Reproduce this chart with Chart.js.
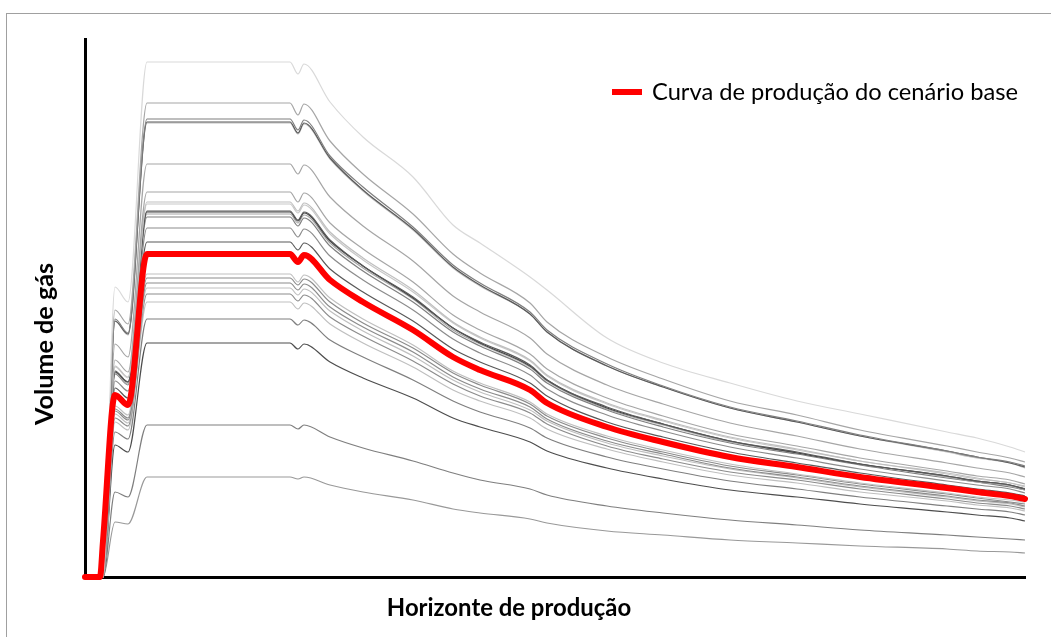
<!DOCTYPE html>
<html>
<head>
<meta charset="utf-8">
<script src="https://cdn.jsdelivr.net/npm/chart.js@4/dist/chart.umd.min.js"></script>
<style>
  html, body { margin: 0; padding: 0; background: #ffffff; }
  canvas { display: block; }
</style>
</head>
<body>
<canvas id="grafico" width="1051" height="637"></canvas>
<script>
// Horizonte de produção (passos de tempo)
const horizonte = [0, 15, 18, 30, 43, 62, 205, 213, 219, 245, 278, 328, 368, 395, 445, 462, 522, 578, 645, 712, 775, 862, 892, 925, 940];

// Curva de produção do cenário base
const cenarioBase = [0, 0, 36, 182, 172, 323, 323, 315, 322, 297, 275, 247, 220, 207, 187, 174, 150, 135, 120, 110, 100, 89, 85, 81, 78];

// Curvas de produção dos demais cenários
const cenario01 = [0, 0, 0, 290, 275, 515, 515, 503, 513, 475, 440, 400, 352, 334, 300, 287, 239, 214, 194, 176, 163, 145, 139, 130, 125];
const cenario02 = [0, 0, 0, 267, 253, 474, 474, 462, 473, 436, 403, 363, 323, 304, 274, 255, 220, 198, 176, 162, 147, 131, 125, 119, 115];
const cenario03 = [0, 0, 0, 258, 244, 458, 458, 447, 457, 421, 390, 350, 312, 294, 265, 247, 213, 191, 170, 156, 142, 126, 120, 115, 111];
const cenario04 = [0, 0, 0, 256, 243, 455, 455, 444, 454, 419, 387, 348, 310, 292, 263, 245, 211, 190, 169, 155, 141, 126, 120, 114, 110];
const cenario05 = [0, 0, 0, 256, 242, 454, 454, 443, 453, 418, 386, 347, 309, 291, 263, 245, 211, 190, 169, 155, 141, 125, 119, 114, 109];
const cenario06 = [0, 0, 0, 233, 220, 413, 413, 403, 412, 380, 351, 316, 281, 265, 239, 223, 192, 173, 154, 141, 128, 114, 109, 104, 100];
const cenario07 = [0, 0, 0, 217, 205, 385, 385, 375, 384, 354, 328, 295, 262, 247, 223, 208, 179, 161, 143, 131, 119, 106, 101, 97, 93];
const cenario08 = [0, 0, 0, 211, 200, 375, 375, 366, 374, 345, 319, 287, 255, 240, 217, 202, 174, 157, 140, 128, 116, 104, 99, 94, 91];
const cenario09 = [0, 0, 0, 210, 199, 373, 373, 364, 372, 343, 317, 285, 254, 239, 216, 201, 173, 156, 139, 127, 116, 103, 98, 94, 90];
const cenario10 = [0, 0, 0, 206, 195, 366, 366, 357, 365, 337, 311, 280, 249, 235, 212, 197, 170, 153, 136, 125, 113, 101, 96, 92, 88];
const cenario11 = [0, 0, 0, 205, 195, 365, 365, 356, 364, 336, 311, 279, 249, 234, 211, 197, 169, 153, 136, 124, 113, 101, 96, 92, 88];
const cenario12 = [0, 0, 0, 204, 193, 363, 363, 354, 362, 334, 309, 278, 247, 233, 210, 196, 168, 152, 135, 124, 113, 100, 95, 91, 87];
const cenario13 = [0, 0, 0, 203, 192, 360, 360, 351, 359, 331, 306, 275, 245, 231, 208, 194, 167, 150, 134, 123, 112, 99, 95, 90, 87];
const cenario14 = [0, 0, 0, 196, 186, 349, 349, 340, 348, 321, 297, 267, 238, 224, 202, 188, 162, 146, 130, 119, 108, 96, 92, 88, 84];
const cenario15 = [0, 0, 0, 189, 179, 335, 335, 327, 334, 308, 285, 256, 228, 215, 194, 181, 155, 140, 125, 114, 104, 92, 88, 84, 81];
const cenario16 = [0, 0, 0, 171, 162, 303, 303, 295, 302, 279, 258, 232, 206, 194, 175, 163, 141, 127, 113, 103, 94, 84, 80, 77, 75];
const cenario17 = [0, 0, 0, 168, 159, 299, 299, 292, 298, 275, 254, 229, 204, 192, 173, 161, 139, 125, 111, 102, 93, 83, 79, 75, 73];
const cenario18 = [0, 0, 0, 166, 157, 294, 294, 287, 293, 270, 250, 225, 200, 188, 170, 158, 136, 123, 109, 100, 91, 81, 77, 74, 71];
const cenario19 = [0, 0, 0, 163, 154, 289, 289, 282, 288, 266, 246, 221, 197, 185, 167, 156, 134, 121, 108, 99, 90, 80, 76, 73, 70];
const cenario20 = [0, 0, 0, 159, 151, 283, 283, 276, 282, 260, 241, 216, 193, 181, 164, 153, 131, 118, 105, 97, 88, 78, 74, 71, 68];
const cenario21 = [0, 0, 0, 155, 147, 275, 275, 268, 274, 253, 234, 210, 187, 176, 159, 148, 128, 115, 102, 94, 85, 76, 72, 69, 66];
const cenario22 = [0, 0, 0, 145, 138, 258, 258, 252, 257, 237, 220, 197, 176, 165, 149, 139, 120, 108, 96, 88, 80, 71, 68, 65, 62];
const cenario23 = [0, 0, 0, 132, 125, 234, 234, 228, 233, 215, 199, 179, 159, 150, 135, 126, 109, 98, 87, 80, 73, 65, 62, 59, 56];
const cenario24 = [0, 0, 0, 85, 80, 152, 152, 148, 152, 140, 129, 116, 104, 97, 88, 82, 71, 64, 57, 52, 47, 42, 40, 38, 37];
const cenario25 = [0, 0, 0, 55, 53, 100, 100, 98, 100, 92, 85, 77, 68, 64, 58, 54, 46, 42, 37, 34, 31, 28, 26, 25, 24];

const cenarios = [
  cenario01, cenario02, cenario03, cenario04, cenario05, cenario06, cenario07, cenario08, cenario09,
  cenario10, cenario11, cenario12, cenario13, cenario14, cenario15, cenario16, cenario17, cenario18,
  cenario19, cenario20, cenario21, cenario22, cenario23, cenario24, cenario25
];

// Tons de cinza de cada cenário
const tonsCinza = [
  '#d9d9d9', '#a6a6a6', '#7f7f7f', '#595959', '#bfbfbf', '#a6a6a6', '#a6a6a6', '#bfbfbf', '#c8c8c8',
  '#595959', '#404040', '#a6a6a6', '#7f7f7f', '#8c8c8c', '#595959', '#bfbfbf', '#8c8c8c', '#8c8c8c',
  '#bfbfbf', '#8c8c8c', '#bfbfbf', '#7f7f7f', '#4d4d4d', '#7f7f7f', '#999999'
];

const rotuloBase = 'Curva de produção do cenário base';
const tituloX = 'Horizonte de produção';
const tituloY = 'Volume de gás';

function pontos(valores) {
  return horizonte.map((x, i) => ({ x: x, y: valores[i] }));
}

const datasets = [{
  label: rotuloBase,
  data: pontos(cenarioBase),
  borderColor: '#ff0000',
  borderWidth: 6,
  borderCapStyle: 'round',
  borderJoinStyle: 'round',
  order: 0
}];
cenarios.forEach((valores, i) => {
  datasets.push({
    label: 'Cenário ' + (i + 1),
    data: pontos(valores),
    borderColor: tonsCinza[i],
    borderWidth: 1.2,
    borderJoinStyle: 'round',
    order: 1
  });
});

const FONTE = 'Lato, "Open Sans", sans-serif';

function tamanhoAjustado(ctx, texto, peso, largura) {
  ctx.font = peso + ' 100px ' + FONTE;
  const w = ctx.measureText(texto).width;
  return 100 * largura / w;
}

// Moldura, títulos dos eixos e legenda
const decoracao = {
  id: 'decoracao',
  beforeDraw(chart) {
    const ctx = chart.ctx;
    ctx.save();
    ctx.fillStyle = '#ffffff';
    ctx.fillRect(0, 0, chart.width, chart.height);
    ctx.strokeStyle = '#a0a0a0';
    ctx.lineWidth = 1;
    ctx.strokeRect(6.5, 13.5, 1200, 800);
    ctx.restore();
  },
  afterDraw(chart) {
    const ctx = chart.ctx;
    ctx.save();
    ctx.fillStyle = '#000000';
    ctx.textBaseline = 'middle';
    ctx.textAlign = 'center';

    // Título do eixo X
    let t = tamanhoAjustado(ctx, tituloX, 'bold', 244);
    ctx.font = 'bold ' + t.toFixed(1) + 'px ' + FONTE;
    ctx.fillText(tituloX, 509, 608);

    // Título do eixo Y
    t = tamanhoAjustado(ctx, tituloY, 'bold', 162);
    ctx.font = 'bold ' + t.toFixed(1) + 'px ' + FONTE;
    ctx.translate(45, 344);
    ctx.rotate(-Math.PI / 2);
    ctx.fillText(tituloY, 0, 0);
    ctx.setTransform(1, 0, 0, 1, 0, 0);

    // Legenda
    ctx.strokeStyle = '#ff0000';
    ctx.lineWidth = 6;
    ctx.lineCap = 'butt';
    ctx.beginPath();
    ctx.moveTo(612, 92);
    ctx.lineTo(642, 92);
    ctx.stroke();
    t = tamanhoAjustado(ctx, rotuloBase, 'normal', 366);
    ctx.font = 'normal ' + t.toFixed(1) + 'px ' + FONTE;
    ctx.textAlign = 'left';
    ctx.fillText(rotuloBase, 652, 92);
    ctx.restore();
  }
};

new Chart(document.getElementById('grafico'), {
  type: 'line',
  data: { datasets: datasets },
  options: {
    responsive: false,
    animation: false,
    devicePixelRatio: 1,
    layout: { padding: { left: 85, top: 39, right: 26, bottom: 60 } },
    elements: {
      point: { radius: 0, hoverRadius: 0 },
      line: { cubicInterpolationMode: 'monotone', fill: false }
    },
    datasets: { line: { clip: false } },
    plugins: {
      legend: { display: false },
      tooltip: { enabled: false },
      title: { display: false }
    },
    scales: {
      x: {
        type: 'linear', min: 0, max: 940,
        ticks: { display: false },
        grid: { display: false, drawTicks: false },
        border: { display: true, color: '#000000', width: 3 }
      },
      y: {
        min: 0, max: 538,
        ticks: { display: false },
        grid: { display: false, drawTicks: false },
        border: { display: true, color: '#000000', width: 3 }
      }
    }
  },
  plugins: [decoracao]
});
</script>
</body>
</html>
